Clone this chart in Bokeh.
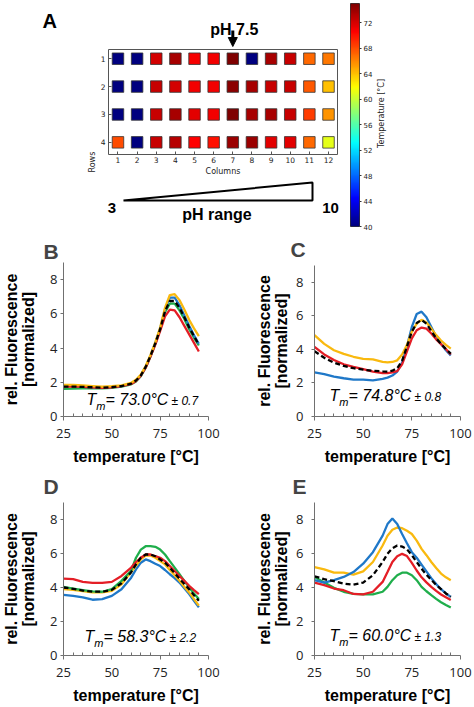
import numpy as np
from math import pi
from bokeh.plotting import figure
from bokeh.layouts import row, column
from bokeh.models import (Range1d, FixedTicker, Label, Arrow, NormalHead, Title,
                          LinearColorMapper, ColumnDataSource)
from bokeh.embed import file_html
from bokeh.resources import INLINE

# ---------------- data: panel A (melting temperature per well)
plate_columns = [1, 2, 3, 4, 5, 6, 7, 8, 9, 10, 11, 12]
plate_rows = [1, 2, 3, 4]
tm_row1 = [40.0, 40.0, 72.0, 73.5, 70.8, 71.0, 75.0, 40.0, 73.5, 72.5, 67.0, 66.5]
tm_row2 = [40.0, 40.0, 72.5, 72.0, 71.0, 71.0, 74.5, 73.5, 72.5, 72.5, 67.5, 64.0]
tm_row3 = [40.0, 40.0, 72.5, 73.5, 71.5, 71.0, 75.0, 73.5, 73.5, 72.5, 68.5, 65.5]
tm_row4 = [68.0, 40.0, 72.5, 73.0, 70.5, 70.0, 74.0, 74.0, 71.5, 71.5, 67.0, 61.0]
colorbar_ticks = [40, 44, 48, 52, 56, 60, 64, 68, 72]
temp_low, temp_high = 40, 75
ph_marked_column = 7

# ---------------- data: panels B-E (melting curves)
temperature = [25, 30, 35, 40, 45, 50, 55, 60, 62.5, 65, 67.5, 70, 72.5, 75, 77.5, 80, 82.5, 85, 87.5, 90, 92.5, 95]

b_blue   = [1.78, 1.77, 1.74, 1.71, 1.68, 1.72, 1.78, 1.92, 2.10, 2.40, 2.90, 3.55, 4.30, 5.15, 6.25, 6.95, 6.95, 6.50, 5.90, 5.30, 4.75, 4.25]
b_yellow = [1.85, 1.85, 1.82, 1.78, 1.74, 1.77, 1.82, 1.97, 2.15, 2.45, 2.95, 3.60, 4.35, 5.20, 6.35, 7.10, 7.15, 6.80, 6.25, 5.65, 5.15, 4.70]
b_red    = [1.75, 1.76, 1.73, 1.70, 1.68, 1.71, 1.77, 1.90, 2.08, 2.38, 2.85, 3.50, 4.20, 5.00, 5.85, 6.25, 6.20, 5.80, 5.30, 4.80, 4.30, 3.80]
b_green  = [1.62, 1.63, 1.65, 1.65, 1.65, 1.68, 1.74, 1.88, 2.05, 2.35, 2.85, 3.50, 4.25, 5.10, 6.10, 6.60, 6.60, 6.20, 5.70, 5.10, 4.60, 4.15]
b_mean   = [1.75, 1.75, 1.73, 1.71, 1.68, 1.72, 1.78, 1.92, 2.10, 2.40, 2.90, 3.55, 4.28, 5.10, 6.15, 6.75, 6.75, 6.35, 5.80, 5.20, 4.70, 4.20]

c_blue   = [2.63, 2.53, 2.38, 2.28, 2.20, 2.20, 2.15, 2.24, 2.32, 2.44, 2.68, 3.21, 4.18, 5.34, 6.11, 6.25, 5.92, 5.34, 4.76, 4.33, 3.95, 3.64]
c_yellow = [4.85, 4.33, 3.95, 3.73, 3.56, 3.44, 3.40, 3.25, 3.22, 3.25, 3.35, 3.70, 4.27, 5.05, 5.53, 5.76, 5.60, 5.24, 4.85, 4.53, 4.27, 4.05]
c_red    = [4.14, 3.70, 3.37, 3.11, 2.96, 2.82, 2.67, 2.59, 2.58, 2.63, 2.70, 3.11, 3.89, 4.66, 5.14, 5.30, 5.24, 4.95, 4.60, 4.31, 4.02, 3.70]
c_mean   = [3.89, 3.50, 3.21, 3.02, 2.88, 2.79, 2.73, 2.69, 2.68, 2.73, 2.88, 3.31, 4.18, 5.05, 5.57, 5.76, 5.53, 5.10, 4.66, 4.33, 4.02, 3.75]

d_blue   = [3.57, 3.51, 3.42, 3.28, 3.32, 3.51, 3.90, 4.58, 5.07, 5.46, 5.65, 5.55, 5.40, 5.26, 5.03, 4.78, 4.55, 4.29, 3.95, 3.61, 3.22, 2.83]
d_yellow = [3.90, 3.86, 3.79, 3.71, 3.71, 3.80, 4.19, 4.91, 5.30, 5.65, 5.88, 5.88, 5.75, 5.55, 5.36, 5.03, 4.72, 4.39, 4.05, 3.71, 3.32, 2.93]
d_red    = [4.52, 4.49, 4.33, 4.27, 4.27, 4.33, 4.68, 5.17, 5.50, 5.75, 5.94, 5.94, 5.84, 5.75, 5.55, 5.26, 4.97, 4.68, 4.39, 4.10, 3.85, 3.61]
d_green  = [4.04, 3.94, 3.84, 3.77, 3.75, 3.90, 4.39, 5.00, 5.75, 6.23, 6.43, 6.43, 6.39, 6.23, 5.94, 5.55, 5.17, 4.78, 4.39, 4.00, 3.65, 3.32]
d_mean   = [4.00, 3.92, 3.82, 3.76, 3.75, 3.86, 4.25, 4.90, 5.36, 5.75, 5.94, 5.94, 5.84, 5.65, 5.46, 5.17, 4.85, 4.52, 4.20, 3.90, 3.55, 3.22]

e_blue   = [4.43, 4.29, 4.43, 4.62, 4.91, 5.40, 6.08, 7.05, 7.73, 8.06, 7.73, 7.15, 6.60, 6.08, 5.75, 5.35, 4.95, 4.55, 4.20, 3.90, 3.65, 3.45]
e_yellow = [5.20, 5.07, 4.87, 4.87, 4.76, 4.95, 5.50, 6.47, 7.05, 7.40, 7.53, 7.49, 7.34, 7.15, 6.76, 6.27, 5.90, 5.50, 5.15, 4.82, 4.60, 4.43]
e_red    = [4.29, 4.14, 3.94, 3.84, 3.62, 3.60, 3.75, 4.33, 4.91, 5.50, 5.84, 5.98, 5.85, 5.45, 5.00, 4.60, 4.30, 4.04, 3.80, 3.59, 3.42, 3.26]
e_green  = [4.62, 4.29, 3.98, 3.75, 3.63, 3.59, 3.59, 3.75, 4.04, 4.43, 4.72, 4.87, 4.87, 4.72, 4.43, 4.04, 3.78, 3.55, 3.33, 3.13, 2.97, 2.82]
e_mean   = [4.66, 4.49, 4.37, 4.23, 4.17, 4.29, 4.72, 5.50, 5.98, 6.31, 6.47, 6.41, 6.25, 5.90, 5.50, 5.10, 4.75, 4.45, 4.15, 3.90, 3.65, 3.45]

tm_values = ["73.0", "74.8", "58.3", "60.0"]
tm_sd = ["0.7", "0.8", "2.2", "1.3"]
panel_letters = ["B", "C", "D", "E"]

x_ticks = [25, 50, 75, 100]
x_minor_ticks = [30, 35, 40, 45, 55, 60, 65, 70, 80, 85, 90, 95]
y_ticks = [0, 2, 4, 6, 8]

# ---------------- styles
BOLD = "Liberation Sans"
TICKF = "Open Sans"
MPL = "DejaVu Sans"
COLORS = {"green": "#1fae4b", "blue": "#1f78c8", "red": "#e41e26", "yellow": "#f9b90f"}


def jet(n=256):
    out = []
    for i in range(n):
        f = i / (n - 1)
        r = min(max(1.5 - abs(4 * f - 3), 0), 1)
        g = min(max(1.5 - abs(4 * f - 2), 0), 1)
        b = min(max(1.5 - abs(4 * f - 1), 0), 1)
        out.append("#%02x%02x%02x" % (int(r * 255), int(g * 255), int(b * 255)))
    return out


mapper = LinearColorMapper(palette=jet(), low=temp_low, high=temp_high)


def deco(width, height, x0, y0, flip=True):
    """An axis-free drawing area whose data units are page pixels."""
    yr = Range1d(y0 + height, y0) if flip else Range1d(y0, y0 + height)
    p = figure(width=width, height=height, x_range=Range1d(x0, x0 + width), y_range=yr,
               x_axis_location=None, y_axis_location=None, frame_align=False,
               output_backend="svg", toolbar_location=None, title=None,
               min_border=0, min_border_left=0, min_border_right=0, min_border_top=0, min_border_bottom=0)
    p.grid.visible = False
    p.outline_line_color = None
    return p


# ---------------- panel A: plate heat map
HX0, HX1 = 0.505, 12.47
FRAME_L, FRAME_R = 108, 337
pa = figure(width=345, height=131, x_range=Range1d(HX0, HX1), y_range=Range1d(4.435, 0.67),
            output_backend="svg", toolbar_location=None, title=None, frame_align=False,
            min_border_left=FRAME_L, min_border_right=345 - FRAME_R, min_border_top=2, min_border_bottom=20)
pa.grid.visible = False
pa.outline_line_color = "#555555"
pa.outline_line_width = 1

wx, wy, wt = [], [], []
for r, vals in zip(plate_rows, [tm_row1, tm_row2, tm_row3, tm_row4]):
    for c, v in zip(plate_columns, vals):
        wx.append(c); wy.append(r); wt.append(v)
src = ColumnDataSource(dict(x=wx, y=wy, tm=wt))
pa.scatter("x", "y", source=src, marker="square", size=11.5,
           fill_color={"field": "tm", "transform": mapper}, line_color="#333333", line_width=0.8)

for ax, ticks in ((pa.xaxis[0], plate_columns), (pa.yaxis[0], plate_rows)):
    ax.ticker = FixedTicker(ticks=ticks)
    ax.axis_line_color = None
    ax.major_tick_in = 3
    ax.major_tick_out = 0
    ax.major_tick_line_color = "#555555"
    ax.minor_tick_line_color = None
    ax.major_label_text_font = MPL
    ax.major_label_text_font_size = "7.5px"
    ax.major_label_text_color = "#222222"
    ax.major_label_standoff = 3
pa.xaxis.major_label_standoff = 2
pa.xaxis.axis_label = "Columns"
pa.xaxis.axis_label_text_font = MPL
pa.xaxis.axis_label_text_font_size = "8px"
pa.xaxis.axis_label_text_font_style = "normal"
pa.xaxis.axis_label_text_color = "#222222"
pa.xaxis.axis_label_standoff = 1
pa.add_layout(Title(text="Rows", align="left", offset=-18, standoff=2, text_font=MPL,
                    text_font_size="8px", text_font_style="normal", text_color="#222222"), "left")

# decorations above the plate: panel letter, pH 7.5 marker
ptop = deco(345, 47, 0, 0)
ptop.text(x=[42], y=[20], text=["A"], text_font={"value": BOLD}, text_font_style="bold",
          text_font_size="20px", text_baseline="alphabetic", text_align="left")
col_px = FRAME_L + (ph_marked_column - HX0) * (FRAME_R - FRAME_L) / (HX1 - HX0)
ptop.text(x=[col_px + 1.5], y=[29], text=["pH 7.5"], text_font={"value": BOLD}, text_font_style="bold",
          text_font_size="16px", text_baseline="alphabetic", text_align="center")
ptop.add_layout(Arrow(end=NormalHead(size=9, fill_color="black", line_color="black", line_width=1),
                      x_start=col_px, y_start=30, x_end=col_px, y_end=46,
                      line_width=3, line_color="black"))

# decorations below the plate: pH range wedge
pbot = deco(345, 52, 0, 178)
pbot.patch(x=[123, 312, 312], y=[200, 182, 200], fill_color=None, line_color="black", line_width=2)
pbot.text(x=[111.5, 330], y=[207, 207], text=["3", "10"], text_font={"value": BOLD},
          text_font_style="bold", text_font_size="15px", text_baseline="alphabetic", text_align="center")
pbot.text(x=[216.5], y=[214], text=["pH range"], text_font={"value": BOLD},
          text_font_style="bold", text_font_size="16px", text_baseline="alphabetic", text_align="center")

# ---------------- colour bar
pcb = figure(width=30, height=230, x_range=Range1d(0, 1), y_range=Range1d(temp_low, temp_high),
             x_axis_location=None, y_axis_location="right", frame_align=False,
             output_backend="svg", toolbar_location=None, title=None,
             min_border_left=5, min_border_right=13, min_border_top=3, min_border_bottom=4)
pcb.grid.visible = False
pcb.outline_line_color = "black"
pcb.outline_line_width = 0.8
grad = np.linspace(temp_low, temp_high, 256).reshape(-1, 1)
pcb.image(image=[grad], x=0, y=temp_low, dw=1, dh=temp_high - temp_low, color_mapper=mapper)
cax = pcb.yaxis[0]
cax.ticker = FixedTicker(ticks=colorbar_ticks)
cax.axis_line_color = None
cax.major_tick_out = 2
cax.major_tick_in = 0
cax.major_tick_line_color = "#333333"
cax.minor_tick_line_color = None
cax.major_label_text_font = MPL
cax.major_label_text_font_size = "7px"
cax.major_label_text_color = "#222222"
cax.major_label_standoff = 2

ptxt = deco(99, 230, 375, 0, flip=False)
ptxt.text(x=[380.5], y=[117], text=["Temperature [°C]"], angle=pi / 2, text_font={"value": MPL},
          text_font_size="8px", text_color="#222222", text_align="center", text_baseline="middle")


# ---------------- panels B-E
def line_panel(idx, series, w, h, bl, br, bt, bb, ytick_standoff, ylab_standoff,
               letter_offset, letter_standoff, tm_pos):
    p = figure(width=w, height=h, x_range=Range1d(25, 100), y_range=Range1d(0, 9),
               output_backend="svg", toolbar_location=None, frame_align=False,
               min_border_left=bl, min_border_right=br, min_border_top=bt, min_border_bottom=bb)
    p.grid.visible = False
    p.outline_line_color = None
    p.title.text = panel_letters[idx]
    p.title.align = "left"
    p.title.offset = letter_offset
    p.title.standoff = letter_standoff
    p.title.text_font = BOLD
    p.title.text_font_style = "bold"
    p.title.text_font_size = "21px"
    for name, vals in series:
        if name == "mean":
            p.line(temperature, vals, line_color="black", line_width=2.3, line_dash="5 3")
        else:
            p.line(temperature, vals, line_color=COLORS[name], line_width=2.3)

    xa = p.xaxis[0]
    xa.ticker = FixedTicker(ticks=x_ticks, minor_ticks=x_minor_ticks)
    ya = p.yaxis[0]
    ya.ticker = FixedTicker(ticks=y_ticks)
    for ax in (xa, ya):
        ax.axis_line_color = "#707070"
        ax.major_tick_line_color = "#707070"
        ax.minor_tick_line_color = "#707070"
        ax.major_label_text_font = TICKF
        ax.major_label_text_font_size = "13px"
        ax.major_label_text_color = "#222222"
        ax.axis_label_text_font = BOLD
        ax.axis_label_text_font_style = "bold"
        ax.axis_label_text_font_size = "16px"
        ax.axis_label_text_color = "black"
    xa.major_tick_out = 4
    xa.major_tick_in = 0
    xa.minor_tick_in = 3
    xa.minor_tick_out = 0
    xa.major_label_standoff = 8
    xa.axis_label = "temperature [°C]"
    xa.axis_label_standoff = 7
    ya.major_tick_out = 3
    ya.major_tick_in = 0
    ya.minor_tick_line_color = None
    ya.major_label_standoff = ytick_standoff
    ya.axis_label = "rel. Fluorescence\n[normalized]"
    ya.axis_label_text_line_height = 1.0
    ya.axis_label_standoff = ylab_standoff

    tx, ty = tm_pos
    it = dict(x_units="screen", y_units="screen", text_font=BOLD, text_font_style="italic",
              text_color="black")
    p.add_layout(Label(x=tx, y=ty, text="T", text_font_size="16px", **it))
    p.add_layout(Label(x=tx + 9.8, y=ty - 4, text="m", text_font_size="11px", **it))
    p.add_layout(Label(x=tx + 19, y=ty, text="= " + tm_values[idx] + "°C", text_font_size="16px", **it))
    p.add_layout(Label(x=tx + 85, y=ty, text="± " + tm_sd[idx], text_font_size="12px", **it))
    return p


pb = line_panel(0, [("green", b_green), ("blue", b_blue), ("red", b_red), ("yellow", b_yellow), ("mean", b_mean)],
                237, 237, 59, 29, 32, 51, 3, 10, -20, -1, (23, 9))
pc = line_panel(1, [("blue", c_blue), ("red", c_red), ("yellow", c_yellow), ("mean", c_mean)],
                237, 237, 77, 14, 34, 47, 8, 3, -24, 10, (15, 13))
pd = line_panel(2, [("blue", d_blue), ("yellow", d_yellow), ("green", d_green), ("red", d_red), ("mean", d_mean)],
                237, 239, 59, 29, 34, 50, 3, 10, -20, 10, (21, 11))
pe = line_panel(3, [("green", e_green), ("red", e_red), ("yellow", e_yellow), ("blue", e_blue), ("mean", e_mean)],
                237, 239, 77, 14, 34, 49, 8, 3, -22, 10, (15, 12))

layout = column(row(column(ptop, pa, pbot), pcb, ptxt), row(pb, pc), row(pd, pe))
open("out.html", "w").write(file_html(layout, INLINE))
